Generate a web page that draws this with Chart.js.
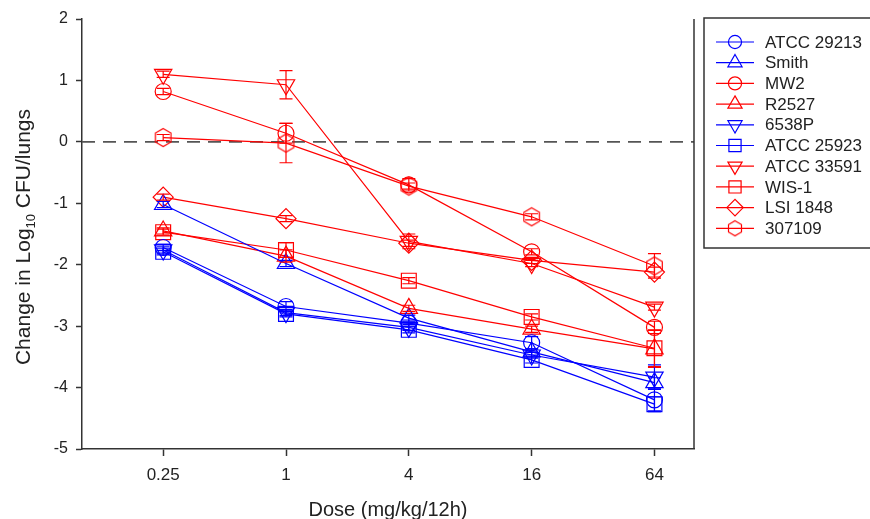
<!DOCTYPE html>
<html>
<head>
<meta charset="utf-8">
<script src="https://cdn.jsdelivr.net/npm/chart.js@4.4.0/dist/chart.umd.min.js"></script>
<style>
  html, body { margin: 0; padding: 0; background: #fff; }
  #wrap { width: 870px; height: 519px; }
</style>
</head>
<body>
<div id="wrap"><canvas id="myChart" width="870" height="519"></canvas></div>
<script>
/* globals Chart:false */
'use strict'

// doses on the x axis (mg/kg/12h)
const doses = [0.25, 1, 4, 16, 64]
const yTicks = [-5, -4, -3, -2, -1, 0, 1, 2]

// change in log10 CFU/lungs per strain
const atcc29213 = [-1.72, -2.68, -2.95, -3.27, -4.20]
const smith = [-1.02, -1.98, -2.87, -3.42, -3.92]
const mw2 = [0.82, 0.14, -0.70, -1.79, -3.02]
const r2527 = [-1.45, -1.86, -2.71, -3.05, -3.37]
const p6538 = [-1.76, -2.78, -3.02, -3.47, -3.83]
const atcc25923 = [-1.79, -2.80, -3.06, -3.55, -4.27]
const atcc33591 = [1.10, 0.93, -1.62, -1.98, -2.69]
const wis1 = [-1.47, -1.76, -2.26, -2.85, -3.36]
const lsi1848 = [-0.90, -1.25, -1.65, -1.93, -2.12]
const s307109 = [0.07, -0.02, -0.72, -1.22, -2.02]

// error bars (+/-)
const errAtcc29213 = [0.05, 0.08, 0.05, 0.10, 0.18]
const errSmith = [0.05, 0.05, 0.05, 0.05, 0.08]
const errMw2 = [0.05, 0.16, 0.10, 0.05, 0.10]
const errR2527 = [0.05, 0.10, 0.05, 0.05, 0.30]
const errP6538 = [0.05, 0.05, 0.05, 0.05, 0.20]
const errAtcc25923 = [0.05, 0.05, 0.05, 0.05, 0.12]
const errAtcc33591 = [0.05, 0.23, 0.12, 0.05, 0.05]
const errWis1 = [0.05, 0.12, 0.05, 0.05, 0.30]
const errLsi1848 = [0.05, 0.05, 0.05, 0.05, 0.08]
const err307109 = [0.05, 0.32, 0.05, 0.05, 0.20]

const BLUE = '#0000ff'
const RED = '#ff0000'
const FONT = '"Liberation Sans", Arial, sans-serif'

// hexagon marker, no built-in style for it
function hexagon(color, r) {
  const c = document.createElement('canvas')
  const s = Math.ceil(r * 2 + 3)
  c.width = s
  c.height = s
  const g = c.getContext('2d')
  g.strokeStyle = color
  g.lineWidth = 1.2
  g.beginPath()
  for (let k = 0; k < 6; k++) {
    const a = -Math.PI / 2 + k * Math.PI / 3
    const px = s / 2 + Math.cos(a) * r
    const py = s / 2 + Math.sin(a) * r
    if (k === 0) g.moveTo(px, py); else g.lineTo(px, py)
  }
  g.closePath()
  g.stroke()
  return c
}

function pts(values) {
  return values.map((v, i) => ({ x: doses[i], y: v }))
}

function series(label, values, errors, color, style, radius, rotation) {
  return {
    label: label,
    data: pts(values),
    errors: errors,
    borderColor: color,
    borderWidth: 1.2,
    pointStyle: style,
    pointRadius: radius,
    pointHoverRadius: radius,
    pointRotation: rotation || 0,
    pointBorderColor: color,
    pointBackgroundColor: 'rgba(0,0,0,0)',
    pointBorderWidth: 1.2,
    tension: 0,
    fill: false
  }
}

const datasets = [
  series('ATCC 29213', atcc29213, errAtcc29213, BLUE, 'circle', 8),
  series('Smith', smith, errSmith, BLUE, 'triangle', 10),
  series('MW2', mw2, errMw2, RED, 'circle', 8),
  series('R2527', r2527, errR2527, RED, 'triangle', 10),
  series('6538P', p6538, errP6538, BLUE, 'triangle', 10, 180),
  series('ATCC 25923', atcc25923, errAtcc25923, BLUE, 'rect', 10.5),
  series('ATCC 33591', atcc33591, errAtcc33591, RED, 'triangle', 10, 180),
  series('WIS-1', wis1, errWis1, RED, 'rect', 10.5),
  series('LSI 1848', lsi1848, errLsi1848, RED, 'rectRot', 10),
  series('307109', s307109, err307109, RED, hexagon(RED, 9), 9)
]

// dashed reference line at zero
datasets.push({
  label: 'zero',
  data: [{ x: 0.1, y: 0 }, { x: 100, y: 0 }],
  borderColor: '#555',
  borderWidth: 1.6,
  borderDash: [13, 8],
  pointRadius: 0,
  noLegend: true,
  order: 20
})

const errorBars = {
  id: 'errorBars',
  afterDatasetsDraw(chart) {
    const ctx = chart.ctx
    const y = chart.scales.y
    chart.data.datasets.forEach((ds, i) => {
      if (!ds.errors) return
      const meta = chart.getDatasetMeta(i)
      ctx.save()
      ctx.strokeStyle = ds.borderColor
      ctx.lineWidth = 1.2
      meta.data.forEach((el, j) => {
        const v = ds.data[j].y
        const top = y.getPixelForValue(v + ds.errors[j])
        const bot = y.getPixelForValue(v - ds.errors[j])
        ctx.beginPath()
        ctx.moveTo(el.x, top)
        ctx.lineTo(el.x, bot)
        ctx.moveTo(el.x - 6.5, top)
        ctx.lineTo(el.x + 6.5, top)
        ctx.moveTo(el.x - 6.5, bot)
        ctx.lineTo(el.x + 6.5, bot)
        ctx.stroke()
      })
      ctx.restore()
    })
  }
}

const frameAndLabels = {
  id: 'frameAndLabels',
  afterDraw(chart) {
    const ctx = chart.ctx
    const area = chart.chartArea
    ctx.save()

    // right border of the plot
    ctx.strokeStyle = '#333'
    ctx.lineWidth = 1.5
    ctx.beginPath()
    ctx.moveTo(area.right, area.top)
    ctx.lineTo(area.right, area.bottom)
    ctx.stroke()

    // legend box, partly off the canvas
    const bx = area.right + 10
    const by = area.top - 1
    ctx.strokeRect(bx, by, 200, 230)
    let row = 0
    chart.data.datasets.forEach(ds => {
      if (ds.noLegend) return
      const ly = by + 24 + row * 20.7
      const lx = bx + 12
      ctx.strokeStyle = ds.borderColor
      ctx.lineWidth = 1.2
      ctx.beginPath()
      ctx.moveTo(lx, ly)
      ctx.lineTo(lx + 38, ly)
      ctx.stroke()
      ctx.fillStyle = 'rgba(0,0,0,0)'
      const legendStyle = typeof ds.pointStyle === 'string' ? ds.pointStyle : hexagon(ds.borderColor, 7.5)
      Chart.helpers.drawPoint(ctx, {
        pointStyle: legendStyle,
        radius: ds.pointRadius * 0.82,
        rotation: ds.pointRotation,
        borderWidth: 1.2
      }, lx + 19, ly)
      ctx.fillStyle = '#222'
      ctx.font = '17px ' + FONT
      ctx.textAlign = 'left'
      ctx.textBaseline = 'middle'
      ctx.fillText(ds.label, lx + 49, ly + 1)
      row++
    })

    // x title
    ctx.fillStyle = '#222'
    ctx.font = '20px ' + FONT
    ctx.textAlign = 'center'
    ctx.textBaseline = 'alphabetic'
    ctx.fillText('Dose (mg/kg/12h)', (area.left + area.right) / 2, 516)

    // y title with subscript
    ctx.translate(30, (area.top + area.bottom) / 2 + 3)
    ctx.rotate(-Math.PI / 2)
    const a = 'Change in Log'
    const sub = '10'
    const b = ' CFU/lungs'
    ctx.font = '21px ' + FONT
    const wa = ctx.measureText(a).width
    const wb = ctx.measureText(b).width
    ctx.font = '13px ' + FONT
    const ws = ctx.measureText(sub).width
    let x0 = -(wa + ws + wb) / 2
    ctx.textAlign = 'left'
    ctx.font = '21px ' + FONT
    ctx.fillText(a, x0, 0)
    ctx.font = '13px ' + FONT
    ctx.fillText(sub, x0 + wa, 5)
    ctx.font = '21px ' + FONT
    ctx.fillText(b, x0 + wa + ws, 0)
    ctx.restore()
  }
}

const ctx = document.getElementById('myChart')
// eslint-disable-next-line no-unused-vars
const myChart = new Chart(ctx, {
  type: 'line',
  data: { datasets: datasets },
  plugins: [errorBars, frameAndLabels],
  options: {
    responsive: false,
    animation: false,
    events: [],
    layout: { padding: { left: 0, right: 176, top: 19, bottom: 0 } },
    plugins: {
      legend: { display: false },
      tooltip: { enabled: false }
    },
    scales: {
      x: {
        type: 'logarithmic',
        min: 0.1,
        max: 100,
        afterBuildTicks: scale => { scale.ticks = doses.map(v => ({ value: v })) },
        afterFit: scale => { scale.height = 70 },
        ticks: {
          callback: v => String(v),
          color: '#222',
          font: { family: FONT, size: 17 },
          padding: 9,
          maxRotation: 0,
          autoSkip: false
        },
        grid: { drawOnChartArea: false, tickLength: 7, tickColor: '#333', tickWidth: 1.5 },
        border: { color: '#333', width: 1.5 }
      },
      y: {
        min: -5,
        max: 2,
        afterBuildTicks: scale => { scale.ticks = yTicks.map(v => ({ value: v })) },
        afterFit: scale => { scale.width = 82 },
        ticks: {
          color: '#222',
          font: { family: FONT, size: 16 },
          padding: 8
        },
        grid: { drawOnChartArea: false, tickLength: 6, tickColor: '#333', tickWidth: 1.5 },
        border: { color: '#333', width: 1.5 }
      }
    }
  }
})
</script>
</body>
</html>
